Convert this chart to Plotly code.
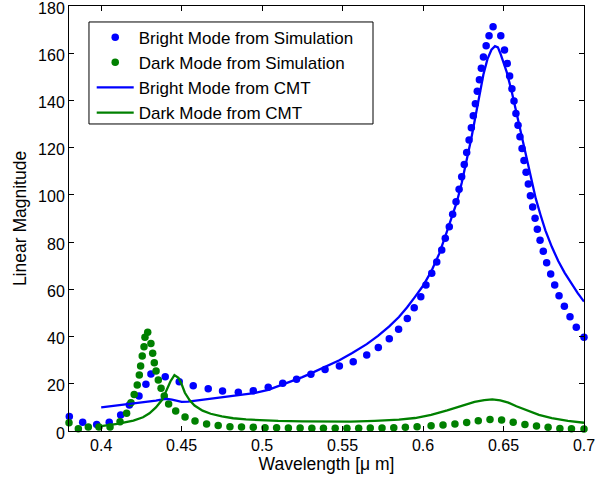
import plotly.graph_objects as go

# ---- Data ----
bright_sim_x = [0.3802, 0.3885, 0.3972, 0.4050, 0.4121, 0.4175, 0.4235, 0.4278, 0.4309, 0.4398,
                0.4485, 0.4572, 0.4665, 0.4754, 0.4852, 0.4945, 0.5038, 0.5128, 0.5214, 0.5303,
                0.5391, 0.5480, 0.5566, 0.5650, 0.5722, 0.5790, 0.5848, 0.5902, 0.5945, 0.5986,
                0.6018, 0.6054, 0.6085, 0.6116, 0.6138, 0.6163, 0.6184, 0.6205, 0.6224, 0.6240,
                0.6256, 0.6271, 0.6286, 0.6300, 0.6312, 0.6325, 0.6337, 0.6350, 0.6362, 0.6375,
                0.6392, 0.6410, 0.6435, 0.6483, 0.6506, 0.6523, 0.6538, 0.6552, 0.6565, 0.6577,
                0.6590, 0.6602, 0.6615, 0.6627, 0.6640, 0.6654, 0.6667, 0.6681, 0.6696, 0.6710,
                0.6727, 0.6747, 0.6768, 0.6793, 0.6818, 0.6845, 0.6878, 0.6913, 0.6952, 0.7000]
bright_sim_y = [6.1, 3.7, 2.8, 3.7, 6.8, 11.0, 14.8, 19.8, 24.1, 23.0,
                20.9, 19.2, 17.9, 16.9, 16.4, 17.1, 18.5, 20.2, 21.9, 24.0,
                26.0, 27.5, 29.3, 32.2, 35.4, 39.1, 43.1, 47.6, 52.2, 56.9,
                61.8, 66.8, 71.6, 76.7, 81.6, 86.5, 91.8, 97.1, 102.4, 107.7,
                112.9, 118.0, 123.2, 128.4, 133.5, 138.6, 143.9, 148.8, 153.6, 158.4,
                163.2, 167.4, 171.2, 167.4, 161.4, 155.7, 150.3, 145.0, 139.8, 134.5,
                129.5, 124.6, 119.6, 114.6, 109.6, 104.6, 99.6, 94.9, 90.1, 85.4,
                80.8, 76.1, 71.3, 66.5, 61.8, 57.3, 52.8, 48.4, 43.9, 39.7]

dark_sim_x = [0.3800, 0.3858, 0.3920, 0.3986, 0.4055, 0.4117, 0.4158, 0.4185, 0.4205, 0.4224,
              0.4237, 0.4245, 0.4255, 0.4266, 0.4272, 0.4289, 0.4309, 0.4320, 0.4330, 0.4341,
              0.4355, 0.4372, 0.4392, 0.4419, 0.4463, 0.4521, 0.4583, 0.4655, 0.4727, 0.4800,
              0.4872, 0.4945, 0.5018, 0.5090, 0.5163, 0.5236, 0.5309, 0.5381, 0.5454, 0.5527,
              0.5600, 0.5672, 0.5745, 0.5818, 0.5890, 0.5963, 0.6050, 0.6124, 0.6198, 0.6271,
              0.6343, 0.6416, 0.6488, 0.6560, 0.6633, 0.6705, 0.6777, 0.6850, 0.6922, 0.7000]
dark_sim_y = [3.5, 1.0, 1.7, 1.7, 1.7, 3.9, 7.5, 12.0, 15.5, 19.5,
              23.7, 27.5, 31.8, 35.7, 39.7, 41.8, 37.1, 32.9, 28.9, 25.4,
              21.6, 18.1, 14.8, 11.4, 8.5, 5.9, 4.2, 3.0, 2.3, 1.8,
              1.7, 1.6, 1.4, 1.4, 1.3, 1.3, 1.2, 1.2, 1.2, 1.2,
              1.2, 1.3, 1.3, 1.4, 1.6, 1.8, 2.2, 2.5, 3.0, 3.6,
              4.3, 4.9, 4.7, 3.7, 2.8, 2.1, 1.6, 1.1, 1.0, 0.8]

bright_cmt_x = [0.400, 0.410, 0.420, 0.428, 0.434, 0.438, 0.441, 0.444, 0.447, 0.450,
                0.454, 0.460, 0.470, 0.480, 0.4852, 0.495, 0.5038, 0.5128, 0.520, 0.525,
                0.530, 0.540, 0.548, 0.556, 0.565, 0.572, 0.579, 0.585, 0.590, 0.595,
                0.600, 0.605, 0.610, 0.6146, 0.618, 0.621, 0.624, 0.627, 0.630, 0.6325,
                0.635, 0.6375, 0.640, 0.6425, 0.6447, 0.6465, 0.648, 0.652, 0.655, 0.658,
                0.661, 0.664, 0.667, 0.670, 0.673, 0.676, 0.680, 0.684, 0.688, 0.692,
                0.696, 0.700]
bright_cmt_y = [10.0, 10.8, 11.5, 12.2, 12.9, 13.4, 13.6, 13.3, 12.7, 12.3,
                12.4, 12.9, 13.8, 14.5, 14.9, 16.0, 17.4, 19.6, 21.5, 22.8,
                24.3, 27.5, 30.0, 33.0, 36.8, 40.3, 44.3, 48.3, 52.3, 56.8,
                61.5, 67.5, 75.0, 84.0, 91.0, 97.0, 105.0, 114.0, 124.0, 133.0,
                142.0, 151.0, 157.5, 161.5, 163.0, 162.5, 160.0, 152.0, 144.0, 135.0,
                126.0, 116.5, 107.0, 98.5, 91.5, 85.0, 78.0, 72.0, 67.0, 62.5,
                58.5, 54.8]

dark_cmt_x = [0.400, 0.410, 0.420, 0.426, 0.430, 0.434, 0.438, 0.441, 0.443, 0.4455,
              0.448, 0.450, 0.452, 0.455, 0.458, 0.463, 0.468, 0.475, 0.482, 0.490,
              0.500, 0.510, 0.525, 0.540, 0.555, 0.570, 0.585, 0.595, 0.605, 0.615,
              0.625, 0.632, 0.638, 0.643, 0.648, 0.653, 0.658, 0.665, 0.672, 0.680,
              0.690, 0.700]
dark_cmt_y = [2.1, 3.0, 4.4, 5.8, 7.5, 10.0, 13.3, 17.5, 21.0, 23.7,
              22.5, 19.8, 16.2, 13.0, 10.8, 8.6, 7.3, 6.2, 5.4, 4.9,
              4.5, 4.3, 4.1, 4.0, 4.0, 4.3, 4.8, 5.5, 6.8, 8.7,
              10.8, 12.3, 13.1, 13.4, 13.0, 12.0, 10.5, 8.5, 6.8, 5.5,
              4.3, 3.5]

x_ticks = [0.4, 0.45, 0.5, 0.55, 0.6, 0.65, 0.7]
x_tick_text = ["0.4", "0.45", "0.5", "0.55", "0.6", "0.65", "0.7"]
y_ticks = [0, 20, 40, 60, 80, 100, 120, 140, 160, 180]

BLUE = "rgb(0,0,255)"
GREEN = "rgb(0,128,0)"
FONT = "Liberation Sans, Arial, Helvetica, sans-serif"

fig = go.Figure()
fig.add_trace(go.Scatter(x=bright_sim_x, y=bright_sim_y, mode="markers",
                         name="Bright Mode from Simulation",
                         marker=dict(color=BLUE, size=7.5), cliponaxis=False))
fig.add_trace(go.Scatter(x=dark_sim_x, y=dark_sim_y, mode="markers",
                         name="Dark Mode from Simulation",
                         marker=dict(color=GREEN, size=7.5), cliponaxis=False))
fig.add_trace(go.Scatter(x=bright_cmt_x, y=bright_cmt_y, mode="lines",
                         name="Bright Mode from CMT", line=dict(color=BLUE, width=2.3)))
fig.add_trace(go.Scatter(x=dark_cmt_x, y=dark_cmt_y, mode="lines",
                         name="Dark Mode from CMT", line=dict(color=GREEN, width=2.3)))

axis_common = dict(showgrid=False, zeroline=False, showline=True, linecolor="black",
                   linewidth=1, mirror="ticks", ticks="inside", ticklen=5,
                   tickcolor="black", ticklabeloverflow="allow", automargin=False,
                   tickfont=dict(family=FONT, size=16, color="black"))

fig.update_layout(
    width=596, height=480,
    margin=dict(l=69, r=12, t=6, b=49, autoexpand=False),
    paper_bgcolor="white", plot_bgcolor="white",
    font=dict(family=FONT, size=16, color="black"),
    xaxis=dict(range=[0.38, 0.7], tickvals=x_ticks, ticktext=x_tick_text,
               title=dict(text="Wavelength [\u03bc m]", font=dict(family=FONT, size=17.5), standoff=3),
               **axis_common),
    yaxis=dict(range=[0, 180], tickvals=y_ticks, ticklabelshift=2,
               title=dict(text="Linear Magnitude", font=dict(family=FONT, size=17.5), standoff=6),
               **axis_common),
    showlegend=True,
    legend=dict(x=0.0441, y=0.9678, xanchor="left", yanchor="top",
                bgcolor="rgba(0,0,0,0)", borderwidth=0, itemwidth=37,
                font=dict(family=FONT, size=17, color="black")),
    shapes=[dict(type="rect", xref="paper", yref="paper",
                 x0=0.0388, x1=0.5903, y0=0.7224, y1=0.9624,
                 line=dict(color="black", width=1), fillcolor="white", layer="above")],
)

fig.write_html("out.html")
